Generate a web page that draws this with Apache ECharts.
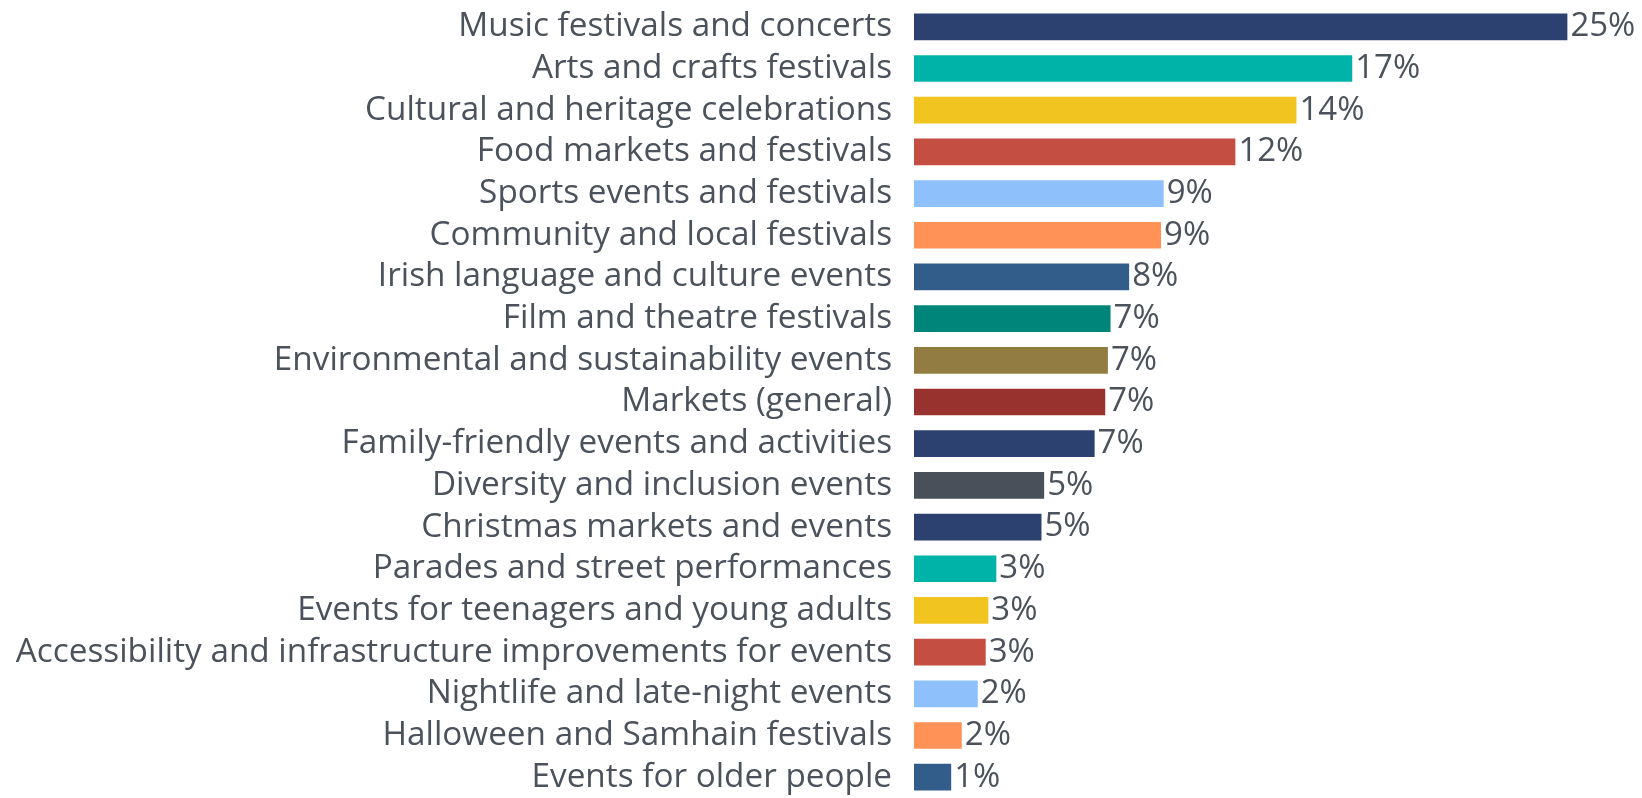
<!DOCTYPE html>
<html><head><meta charset="utf-8">
<script src="https://cdn.jsdelivr.net/npm/echarts@6/dist/echarts.min.js"></script>
<style>html,body{margin:0;padding:0;background:#fff;}#c{width:1642px;height:798px;}</style>
</head><body><div id="c"></div>
<script>
const categories = [
  "Music festivals and concerts",
  "Arts and crafts festivals",
  "Cultural and heritage celebrations",
  "Food markets and festivals",
  "Sports events and festivals",
  "Community and local festivals",
  "Irish language and culture events",
  "Film and theatre festivals",
  "Environmental and sustainability events",
  "Markets (general)",
  "Family-friendly events and activities",
  "Diversity and inclusion events",
  "Christmas markets and events",
  "Parades and street performances",
  "Events for teenagers and young adults",
  "Accessibility and infrastructure improvements for events",
  "Nightlife and late-night events",
  "Halloween and Samhain festivals",
  "Events for older people"
];
const values = [24.6, 16.5, 14.4, 12.1, 9.4, 9.3, 8.1, 7.4, 7.3, 7.2, 6.8, 4.9, 4.8, 3.1, 2.8, 2.7, 2.4, 1.8, 1.4];
const barColors = ["#2c4170","#00b3a8","#f2c420","#c44e41","#8ec0fc","#ff9257","#325d8a","#00857a","#927c42","#97322e","#2c4170","#4a5059","#2c4170","#00b3a8","#f2c420","#c44e41","#8ec0fc","#ff9257","#325d8a"];

const chart = echarts.init(document.getElementById('c'), null, {renderer:'canvas'});
chart.setOption({
  animation: false,
  backgroundColor: '#ffffff',
  grid: {left: 914, top: 6, width: 664, height: 795, containLabel: false},
  xAxis: {type: 'value', min: 0, max: 25, show: false},
  yAxis: {
    type: 'category', data: categories, inverse: true,
    axisLine: {show: false}, axisTick: {show: false}, splitLine: {show: false},
    axisLabel: {interval: 0, fontFamily: 'Open Sans', fontSize: 33.3, color: '#4b525c', margin: 22}
  },
  series: [{
    type: 'bar',
    data: values.map((v, i) => ({value: v, itemStyle: {color: barColors[i]}})),
    barCategoryGap: '36%',
    label: {
      show: true, position: 'right', distance: 3,
      fontFamily: 'Open Sans', fontSize: 33, color: '#4b525c',
      formatter: p => Math.round(p.value) + '%'
    }
  }]
});
</script></body></html>
